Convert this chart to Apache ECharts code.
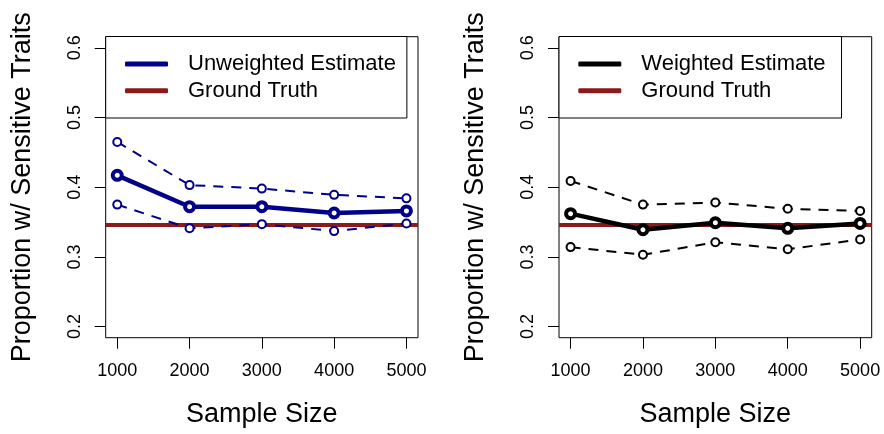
<!DOCTYPE html>
<html>
<head>
<meta charset="utf-8">
<script src="https://cdn.jsdelivr.net/npm/echarts@6/dist/echarts.min.js"></script>
<style>html,body{margin:0;padding:0;background:#fff;}#c{width:884px;height:434px;}</style>
</head>
<body>
<div id="c"></div>
<script>
const sampleSizes = [1000, 2000, 3000, 4000, 5000];
const yTicks = [0.2, 0.3, 0.4, 0.5, 0.6];
const unwUpper = [0.465, 0.403, 0.398, 0.389, 0.384];
const unwMean  = [0.417, 0.372, 0.372, 0.363, 0.366];
const unwLower = [0.375, 0.341, 0.347, 0.337, 0.348];
const wUpper = [0.409, 0.375, 0.378, 0.369, 0.366];
const wMean  = [0.362, 0.339, 0.349, 0.341, 0.348];
const wLower = [0.314, 0.303, 0.321, 0.311, 0.325];
const groundTruth = 0.346;
const legendLeft = ['Unweighted Estimate', 'Ground Truth'];
const legendRight = ['Weighted Estimate', 'Ground Truth'];

const FONT = '"Liberation Sans", Arial, Helvetica, sans-serif';
const NAVY = '#000088';
const RED = '#8B1A1A';
const pair = arr => arr.map((v, i) => [sampleSizes[i], v]);

function xAx(gi) {
  return {
    type: 'value', gridIndex: gi, min: 840, max: 5160,
    name: 'Sample Size', nameLocation: 'middle', nameGap: 63,
    nameTextStyle: {fontSize: 27, fontFamily: FONT, color: '#000'},
    axisLine: {show: false},
    splitLine: {show: false},
    axisTick: {show: true, length: 11, lineStyle: {color: '#000', width: 1}, customValues: sampleSizes},
    axisLabel: {fontSize: 18, fontFamily: FONT, color: '#000', margin: 24, customValues: sampleSizes,
      formatter: v => String(v)}
  };
}
function yAx(gi) {
  return {
    type: 'value', gridIndex: gi, min: 0.184, max: 0.616,
    name: 'Proportion w/ Sensitive Traits', nameLocation: 'middle', nameGap: 70, nameRotate: 90,
    nameTextStyle: {fontSize: 27, fontFamily: FONT, color: '#000'},
    axisLine: {show: false},
    splitLine: {show: false},
    axisTick: {show: true, length: 11, lineStyle: {color: '#000', width: 1}, customValues: yTicks},
    axisLabel: {fontSize: 18, fontFamily: FONT, color: '#000', margin: 22, rotate: 90, customValues: yTicks,
      formatter: v => v.toFixed(1)}
  };
}
function band(gi, name, data, color) {
  return {
    type: 'line', name: name, xAxisIndex: gi, yAxisIndex: gi, data: pair(data), z: 3,
    symbol: 'circle', symbolSize: 8, showSymbol: true,
    itemStyle: {color: '#fff', borderColor: color, borderWidth: 2},
    lineStyle: {color: color, width: 2, type: [10, 8]},
    animation: false, silent: true
  };
}
function mean(gi, name, data, color) {
  return {
    type: 'line', name: name, xAxisIndex: gi, yAxisIndex: gi, data: pair(data), z: 4,
    symbol: 'circle', symbolSize: 9, showSymbol: true,
    itemStyle: {color: '#fff', borderColor: color, borderWidth: 4},
    lineStyle: {color: color, width: 4.5},
    animation: false, silent: true
  };
}
function truth(gi) {
  return {
    type: 'line', name: 'Ground Truth', xAxisIndex: gi, yAxisIndex: gi, data: [], z: 1,
    itemStyle: {color: RED}, lineStyle: {color: RED, width: 4},
    markLine: {silent: true, symbol: 'none', label: {show: false}, animation: false, precision: 4, z: 1,
      lineStyle: {color: RED, width: 4, type: 'solid'}, data: [{yAxis: groundTruth}]},
    animation: false
  };
}
function legend(left, data, colors, padRight) {
  return {
    left: left, top: 36.5, orient: 'vertical',
    data: data.map((n, i) => ({name: n, icon: 'roundRect',
      itemStyle: {color: colors[i], borderWidth: 0}})),
    itemWidth: 43, itemHeight: 5, itemGap: 4.7,
    padding: [16.5, padRight, 16.3, 19.3],
    backgroundColor: '#fff', borderColor: '#000', borderWidth: 1, borderRadius: 0,
    selectedMode: false,
    textStyle: {fontSize: 22, fontFamily: FONT, color: '#000', lineHeight: 22, padding: [0, 0, 0, 15]}
  };
}

const chart = echarts.init(document.getElementById('c'), null, {renderer: 'canvas'});
chart.setOption({
  animation: false,
  backgroundColor: '#fff',
  grid: [
    {left: 105.7, top: 36.7, width: 312.3, height: 301, show: true, borderColor: '#000', borderWidth: 1, backgroundColor: 'transparent'},
    {left: 559, top: 36.7, width: 312.7, height: 301, show: true, borderColor: '#000', borderWidth: 1, backgroundColor: 'transparent'}
  ],
  xAxis: [xAx(0), xAx(1)],
  yAxis: [yAx(0), yAx(1)],
  legend: [legend(105.7, legendLeft, [NAVY, RED], 11), legend(559, legendRight, ['#000', RED], 16)],
  series: [
    truth(0),
    band(0, 'Unweighted Upper', unwUpper, NAVY),
    band(0, 'Unweighted Lower', unwLower, NAVY),
    mean(0, 'Unweighted Estimate', unwMean, NAVY),
    truth(1),
    band(1, 'Weighted Upper', wUpper, '#000'),
    band(1, 'Weighted Lower', wLower, '#000'),
    mean(1, 'Weighted Estimate', wMean, '#000')
  ]
});
</script>
</body>
</html>
